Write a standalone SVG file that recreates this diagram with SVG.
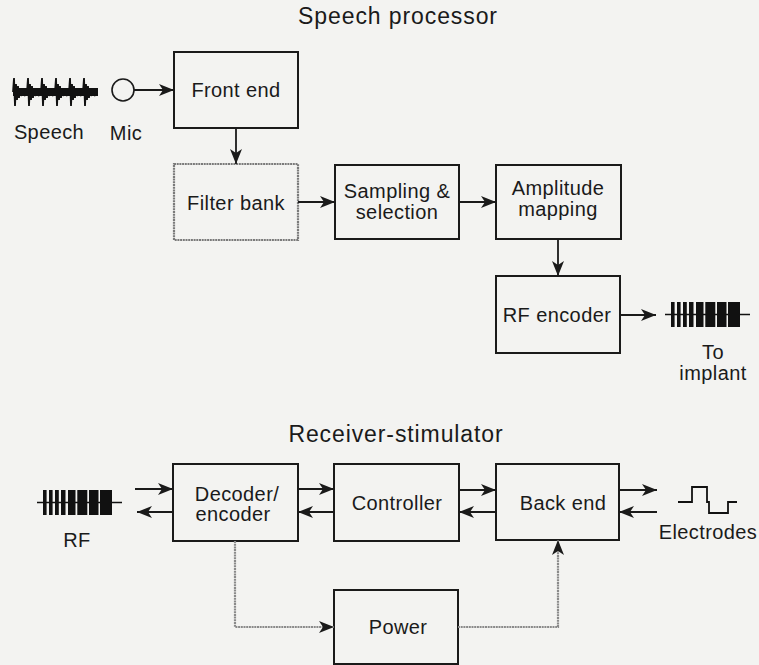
<svg xmlns="http://www.w3.org/2000/svg" width="759" height="665" viewBox="0 0 759 665">
<style>
text{font-family:"Liberation Sans",Arial,sans-serif;fill:#1a1a1a;text-anchor:middle}
.t{font-size:20px;letter-spacing:0.4px}
.h{font-size:23px;letter-spacing:0.9px}
.box{fill:#f3f3f1;stroke:#1a1a1a;stroke-width:2}
.gbox{fill:#f3f3f1;stroke:#7a7a7a;stroke-width:2.2;stroke-dasharray:2 0.7}
.c{fill:none;stroke:#1a1a1a;stroke-width:1.8}
.g{fill:none;stroke:#8a8a8a;stroke-width:2.2;stroke-dasharray:2 0.7}
.w{fill:none;stroke:#111;stroke-width:1.8}
</style>
<defs>
<marker id="ah" markerUnits="userSpaceOnUse" markerWidth="16" markerHeight="12" refX="15" refY="6" orient="auto">
<path d="M0,0 L15,6 L0,12 L4,6 Z" fill="#1a1a1a"/>
</marker>
<path id="wu" d="M0,0 L1,-14 L2,14 L3,-8 L4,8 L5,-6 L6,6 L7,-4 L8,4 L9,-3 L10,3 L11,-2 L12,2 L13,-1 L14,0"/>
<g id="burst">
<line x1="0" y1="12.5" x2="85" y2="12.5" stroke="#111" stroke-width="1.5"/>
<rect x="6" y="0" width="3.6" height="25" fill="#111"/>
<rect x="12" y="0" width="3.6" height="25" fill="#111"/>
<rect x="18" y="0" width="3.8" height="25" fill="#111"/>
<rect x="24" y="0" width="4.5" height="25" fill="#111"/>
<rect x="31" y="0" width="7.5" height="25" fill="#111"/>
<rect x="40.3" y="0" width="10" height="25" fill="#111"/>
<rect x="52" y="0" width="9.5" height="25" fill="#111"/>
<rect x="63" y="0" width="12" height="25" fill="#111"/>
</g>
</defs>
<rect width="759" height="665" fill="#f3f3f1"/>

<text class="h" x="398" y="24">Speech processor</text>
<text class="h" x="396" y="442">Receiver-stimulator</text>

<g id="speech">
<g class="w">
<use href="#wu" transform="translate(13,92)"/>
<use href="#wu" transform="translate(27,92)"/>
<use href="#wu" transform="translate(41,92)"/>
<use href="#wu" transform="translate(55,92)"/>
<use href="#wu" transform="translate(69,92)"/>
<use href="#wu" transform="translate(83,92)"/>
</g>
<rect x="13" y="88" width="85" height="8" fill="#111"/>
<text class="t" x="49" y="139">Speech</text>
</g>

<g id="mic">
<circle cx="123" cy="90" r="11" fill="none" stroke="#1a1a1a" stroke-width="1.6"/>
<text class="t" x="126" y="140">Mic</text>
</g>

<g id="front-end"><rect class="box" x="174" y="52" width="124" height="76"/><text class="t" x="236" y="97">Front end</text></g>
<g id="filter-bank"><rect class="gbox" x="174" y="164" width="124" height="76"/><text class="t" x="236" y="210">Filter bank</text></g>
<g id="sampling"><rect class="box" x="335" y="165" width="124" height="74"/><text class="t" x="397" y="198">Sampling &amp;</text><text class="t" x="397" y="219">selection</text></g>
<g id="amplitude"><rect class="box" x="496" y="165" width="125" height="74"/><text class="t" x="558" y="195">Amplitude</text><text class="t" x="558" y="216">mapping</text></g>
<g id="rf-encoder"><rect class="box" x="496" y="276" width="124" height="77"/><text class="t" x="557" y="322">RF encoder</text></g>

<g id="to-implant">
<use href="#burst" transform="translate(665,302)"/>
<text class="t" x="713" y="359">To</text>
<text class="t" x="713" y="380">implant</text>
</g>

<g id="rf">
<use href="#burst" transform="translate(37,490)"/>
<text class="t" x="77" y="547">RF</text>
</g>

<g id="decoder"><rect class="box" x="173" y="464" width="125" height="77"/><text class="t" x="237" y="501">Decoder/</text><text class="t" x="233" y="521">encoder</text></g>
<g id="controller"><rect class="box" x="334" y="464" width="125" height="77"/><text class="t" x="397" y="510">Controller</text></g>
<g id="back-end"><rect class="box" x="496" y="464" width="123" height="76"/><text class="t" x="563" y="510">Back end</text></g>
<g id="power"><rect class="box" x="334" y="590" width="124" height="74"/><text class="t" x="398" y="634">Power</text></g>

<g id="electrodes">
<path class="w" d="M678,502 H692 V487 H707 V502 H709 V513 H728 V502 H737"/>
<text class="t" x="708" y="539">Electrodes</text>
</g>

<g id="connectors">
<path class="c" marker-end="url(#ah)" d="M134,90 H174"/>
<path class="c" marker-end="url(#ah)" d="M236,128 V164"/>
<path class="c" marker-end="url(#ah)" d="M298,202 H335"/>
<path class="c" marker-end="url(#ah)" d="M459,202 H496"/>
<path class="c" marker-end="url(#ah)" d="M558,239 V276"/>
<path class="c" marker-end="url(#ah)" d="M620,315 H656"/>
<path class="c" marker-end="url(#ah)" d="M135,489 H173"/>
<path class="c" marker-end="url(#ah)" d="M173,512 H137"/>
<path class="c" marker-end="url(#ah)" d="M298,489 H334"/>
<path class="c" marker-end="url(#ah)" d="M334,512 H298"/>
<path class="c" marker-end="url(#ah)" d="M459,490 H496"/>
<path class="c" marker-end="url(#ah)" d="M496,512 H459"/>
<path class="c" marker-end="url(#ah)" d="M619,490 H657"/>
<path class="c" marker-end="url(#ah)" d="M657,512 H619"/>
<path class="g" marker-end="url(#ah)" d="M235,541 V627 H334"/>
<path class="g" marker-end="url(#ah)" d="M458,627 H558 V540"/>
</g>
</svg>
